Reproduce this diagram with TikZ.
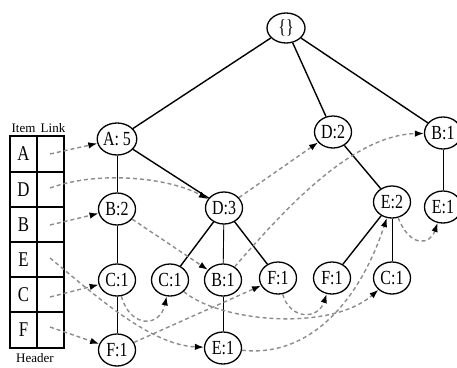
\documentclass[tikz,border=0pt]{standalone}
\usepackage{fontspec}
\setmainfont{Liberation Serif}
\newfontfamily\nodefont[FakeStretch=0.8]{Liberation Serif}
\usetikzlibrary{shapes.geometric,arrows.meta}
\begin{document}
\begin{tikzpicture}[x=1pt,y=-1pt,
 tn/.style={ellipse,draw,line width=1.3pt,minimum width=37pt,minimum height=32pt,inner sep=0pt,font=\nodefont\fontsize{20}{20}\selectfont},
 thickedge/.style={line width=1.4pt},
 thinedge/.style={line width=0.9pt},
 link/.style={draw=black!45,line width=1.4pt,dash pattern=on 4pt off 3pt,-{Latex[length=9pt,width=6.5pt,color=black]}},
 hdr/.style={font=\nodefont\fontsize{21}{21}\selectfont,inner sep=0pt},
 lbl/.style={font=\fontsize{13}{13}\selectfont,inner sep=0pt},
 tab/.style={line width=1.4pt}
 ]
\useasboundingbox (0,0) rectangle (457,367);

% header table
\draw[tab] (10,136) rectangle (64,348);
\draw[tab] (37,136) -- (37,348);
\foreach \yy in {172,207,242,277,312} \draw[tab] (10,\yy) -- (64,\yy);
\node[lbl] (item) at (23.5,128) {Item};
\node[lbl] (linkt) at (53,128) {Link};
\node[lbl] (header) at (35,358.5) {Header};
\node[hdr] (hA) at (23.5,154) {A};
\node[hdr] (hD) at (23.5,189.5) {D};
\node[hdr] (hB) at (23.5,224.5) {B};
\node[hdr] (hE) at (23.5,259.5) {E};
\node[hdr] (hC) at (23.5,294.5) {C};
\node[hdr] (hF) at (23.5,330) {F};
\coordinate (lA) at (50,154);
\coordinate (lD) at (50,188);
\coordinate (lB) at (50,225);
\coordinate (lE) at (50,258);
\coordinate (lC) at (50,297);
\coordinate (lF) at (50,327);

% tree nodes
\node[tn,minimum width=38pt,minimum height=30pt] (root) at (286,28) {\{\}};
\node[tn] (A5) at (117,139) {A: 5};
\node[tn] (D2) at (333,132) {D:2};
\node[tn] (B1r) at (443,133) {B:1};
\node[tn] (B2) at (117,209) {B:2};
\node[tn] (D3) at (224,208) {D:3};
\node[tn] (E2) at (392,202) {E:2};
\node[tn] (E1r) at (443,207) {E:1};
\node[tn] (C1a) at (117,280) {C:1};
\node[tn] (C1b) at (170,280) {C:1};
\node[tn] (B1m) at (223,280) {B:1};
\node[tn] (F1a) at (278,278) {F:1};
\node[tn] (F1b) at (332,278) {F:1};
\node[tn] (C1c) at (392,278) {C:1};
\node[tn] (F1c) at (117,350) {F:1};
\node[tn] (E1b) at (223,348) {E:1};

% tree edges
\draw[thickedge] (root) -- (A5);
\draw[thickedge] (root) -- (D2);
\draw[thickedge] (root) -- (B1r);
\draw[thinedge] (A5) -- (B2);
\draw[thickedge] (A5) -- (D3);
\draw[thinedge] (B2) -- (C1a);
\draw[thinedge] (C1a) -- (F1c);
\draw[thickedge] (D3) -- (C1b);
\draw[thinedge] (D3) -- (B1m);
\draw[thickedge] (D3) -- (F1a);
\draw[thinedge] (B1m) -- (E1b);
\draw[thickedge] (D2) -- (E2);
\draw[thickedge] (E2) -- (F1b);
\draw[thinedge] (E2) -- (C1c);
\draw[thinedge] (B1r) -- (E1r);

% node links
\draw[link] (lA) -- (A5);
\draw[link] (lD) .. controls (100,170) and (170,178) .. (D3);
\draw[link] (lB) -- (B2);
\draw[link] (lE) .. controls (95,295) and (150,345) .. (E1b);
\draw[link] (lC) -- (C1a);
\draw[link] (lF) -- (F1c);
\draw[link] (D3) -- (D2);
\draw[link] (B2) -- (B1m);
\draw[link] (B1m) .. controls (280,215) and (350,135) .. (B1r);
\draw[link] (C1a) .. controls (130,328) and (160,328) .. (C1b);
\draw[link] (C1b) .. controls (220,322) and (330,332) .. (C1c);
\draw[link] (F1c) -- (F1a);
\draw[link] (F1a) .. controls (290,320) and (318,320) .. (F1b);
\draw[link] (E1b) .. controls (310,358) and (360,300) .. (E2);
\draw[link] (E2) .. controls (410,248) and (430,245) .. (E1r);
\end{tikzpicture}
\end{document}
